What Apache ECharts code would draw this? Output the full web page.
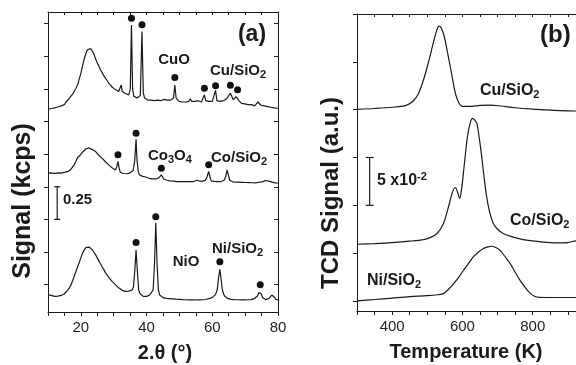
<!DOCTYPE html>
<html>
<head>
<meta charset="utf-8">
<script src="https://cdn.jsdelivr.net/npm/echarts@6/dist/echarts.min.js"></script>
<style>
  html, body { margin: 0; padding: 0; background: #fff; }
  #myChart { width: 576px; height: 365px; }
</style>
</head>
<body>
<div id="myChart"></div>
<script>
// (a) XRD, 2theta (deg) vs signal (kcps, curves offset)
var xrdCu = [[10,1.345],[10.5,1.36],[11,1.35],[11.5,1.365],[12,1.355],[12.5,1.37],[13,1.362],[13.5,1.375],[14,1.37],[14.5,1.385],[15,1.38],[15.5,1.40],[16,1.405],[16.5,1.43],[17,1.435],[17.5,1.46],[18,1.47],[18.5,1.505],[19,1.53],[19.5,1.575],[20,1.62],[20.5,1.675],[21,1.73],[21.5,1.77],[22,1.80],[22.3,1.815],[22.6,1.805],[23,1.81],[23.5,1.79],[24,1.765],[24.5,1.73],[25,1.70],[25.5,1.675],[26,1.645],[26.5,1.625],[27,1.60],[27.5,1.585],[28,1.565],[28.5,1.545],[29,1.53],[29.5,1.515],[30,1.505],[30.5,1.495],[31,1.49],[31.5,1.48],[32,1.485],[32.3,1.53],[32.6,1.48],[33,1.47],[33.5,1.465],[34,1.455],[34.6,1.455],[35.05,1.5],[35.4,1.99],[35.75,1.5],[36.1,1.445],[36.6,1.44],[37.1,1.43],[37.6,1.435],[38.1,1.45],[38.6,1.94],[39,1.47],[39.4,1.43],[39.8,1.42],[40.3,1.415],[40.8,1.425],[41.3,1.415],[41.8,1.42],[42.3,1.41],[42.8,1.42],[43.3,1.415],[43.8,1.42],[44.3,1.41],[44.8,1.415],[45.3,1.42],[45.8,1.41],[46.3,1.415],[46.8,1.41],[47.3,1.415],[47.8,1.418],[48.2,1.43],[48.6,1.53],[49,1.43],[49.4,1.415],[49.9,1.405],[50.4,1.41],[50.9,1.40],[51.4,1.405],[51.9,1.40],[52.4,1.41],[52.9,1.405],[53.3,1.425],[53.7,1.405],[54.2,1.40],[54.7,1.405],[55.2,1.40],[55.7,1.41],[56.2,1.405],[56.7,1.40],[57.2,1.41],[57.6,1.455],[58,1.41],[58.5,1.40],[59,1.405],[59.5,1.40],[60,1.405],[60.5,1.41],[61,1.49],[61.4,1.41],[61.9,1.40],[62.4,1.405],[62.9,1.40],[63.4,1.41],[63.9,1.415],[64.4,1.425],[64.9,1.44],[65.5,1.468],[66,1.44],[66.4,1.418],[66.9,1.43],[67.3,1.44],[67.7,1.455],[68.1,1.41],[68.5,1.395],[68.9,1.39],[69.4,1.395],[69.9,1.385],[70.4,1.39],[70.9,1.38],[71.4,1.385],[71.9,1.38],[72.4,1.375],[72.9,1.37],[73.4,1.38],[73.9,1.40],[74.3,1.392],[74.8,1.375],[75.3,1.365],[75.8,1.37],[76.3,1.36],[76.8,1.365],[77.3,1.355],[77.8,1.36],[78.3,1.35],[78.8,1.355],[79.4,1.345],[80,1.35]];
var xrdCo = [[10,0.854],[10.5,0.85],[11,0.857],[11.5,0.848],[12,0.853],[12.5,0.85],[13,0.856],[13.5,0.849],[14,0.855],[14.5,0.858],[15,0.86],[15.5,0.862],[16,0.866],[16.5,0.872],[17,0.885],[17.5,0.90],[18,0.92],[18.5,0.945],[19,0.975],[19.3,0.985],[19.7,0.99],[20,1.0],[20.5,1.015],[21,1.03],[21.5,1.04],[22,1.045],[22.5,1.048],[23,1.042],[23.5,1.035],[24,1.028],[24.5,1.02],[25,1.005],[25.5,0.99],[26,0.98],[26.5,0.968],[27,0.955],[27.5,0.942],[28,0.93],[28.5,0.918],[29,0.905],[29.5,0.895],[30,0.885],[30.5,0.878],[30.9,0.90],[31.3,0.945],[31.6,0.90],[32,0.86],[32.4,0.855],[32.9,0.852],[33.4,0.855],[33.9,0.85],[34.4,0.852],[34.9,0.855],[35.4,0.86],[35.9,0.875],[36.4,0.95],[36.8,1.115],[37.1,0.95],[37.5,0.86],[37.9,0.84],[38.3,0.835],[38.8,0.83],[39.3,0.828],[39.8,0.825],[40.3,0.82],[40.8,0.815],[41.3,0.812],[41.8,0.81],[42.3,0.808],[42.8,0.81],[43.3,0.808],[43.8,0.82],[44.2,0.835],[44.5,0.842],[44.8,0.83],[45.2,0.81],[45.7,0.803],[46.2,0.80],[46.7,0.798],[47.2,0.795],[47.7,0.797],[48.2,0.793],[48.7,0.795],[49.2,0.79],[49.7,0.792],[50.2,0.79],[50.7,0.793],[51.2,0.789],[51.7,0.792],[52.2,0.79],[52.7,0.795],[53.2,0.79],[53.7,0.792],[54.2,0.789],[54.7,0.795],[55.2,0.80],[55.5,0.805],[55.9,0.795],[56.4,0.79],[56.9,0.792],[57.4,0.795],[57.9,0.80],[58.4,0.825],[58.9,0.868],[59.3,0.825],[59.7,0.795],[60.1,0.79],[60.6,0.792],[61.1,0.789],[61.6,0.79],[62.1,0.788],[62.6,0.79],[63.1,0.793],[63.6,0.80],[64.1,0.83],[64.5,0.88],[64.9,0.84],[65.3,0.80],[65.7,0.792],[66.2,0.788],[66.7,0.79],[67.2,0.786],[67.7,0.789],[68.2,0.785],[68.7,0.788],[69.2,0.784],[69.7,0.787],[70.2,0.783],[70.7,0.786],[71.2,0.782],[71.7,0.785],[72.2,0.781],[72.7,0.784],[73.2,0.78],[73.7,0.783],[74.2,0.785],[74.7,0.79],[75.2,0.788],[75.7,0.795],[76.2,0.798],[76.7,0.797],[77.2,0.793],[77.7,0.789],[78.2,0.786],[78.7,0.782],[79.2,0.78],[80,0.777]];
var xrdNi = [[10,-0.079],[10.5,-0.085],[11,-0.082],[11.5,-0.088],[12,-0.09],[12.5,-0.093],[13,-0.088],[13.5,-0.09],[14,-0.083],[14.5,-0.078],[15,-0.07],[15.5,-0.058],[16,-0.042],[16.5,-0.025],[17,-0.002],[17.5,0.03],[18,0.065],[18.5,0.1],[19,0.135],[19.5,0.17],[20,0.205],[20.5,0.24],[21,0.265],[21.5,0.283],[22,0.291],[22.5,0.288],[23,0.278],[23.5,0.266],[24,0.248],[24.5,0.228],[25,0.205],[25.5,0.18],[26,0.16],[26.5,0.135],[27,0.115],[27.5,0.09],[28,0.072],[28.5,0.055],[29,0.04],[29.5,0.025],[30,0.012],[30.5,0.0],[31,-0.012],[31.5,-0.025],[32,-0.035],[32.5,-0.042],[33,-0.048],[33.5,-0.052],[34,-0.055],[34.5,-0.05],[35,-0.048],[35.5,-0.042],[36,-0.02],[36.4,0.1],[36.8,0.266],[37.2,0.1],[37.6,-0.04],[38,-0.07],[38.5,-0.085],[39,-0.09],[39.5,-0.092],[40,-0.09],[40.5,-0.085],[41,-0.08],[41.5,-0.07],[42,-0.04],[42.4,0.15],[42.8,0.475],[43.2,0.15],[43.6,-0.04],[44,-0.08],[44.5,-0.095],[45,-0.1],[45.5,-0.104],[46,-0.106],[46.5,-0.105],[47,-0.108],[47.5,-0.107],[48,-0.11],[48.5,-0.108],[49,-0.112],[49.5,-0.11],[50,-0.113],[50.5,-0.111],[51,-0.115],[51.5,-0.112],[52,-0.116],[52.5,-0.113],[53,-0.117],[53.5,-0.114],[54,-0.117],[54.5,-0.115],[55,-0.118],[55.5,-0.114],[56,-0.117],[56.5,-0.115],[57,-0.116],[57.5,-0.113],[58,-0.114],[58.5,-0.11],[59,-0.108],[59.5,-0.105],[60,-0.1],[60.5,-0.092],[61,-0.075],[61.5,-0.04],[61.9,0.05],[62.3,0.118],[62.6,0.06],[63,-0.03],[63.4,-0.07],[63.8,-0.09],[64.3,-0.1],[64.8,-0.108],[65.3,-0.11],[65.8,-0.113],[66.3,-0.111],[66.8,-0.115],[67.3,-0.112],[67.8,-0.116],[68.3,-0.114],[68.8,-0.117],[69.3,-0.115],[69.8,-0.117],[70.3,-0.114],[70.8,-0.116],[71.3,-0.113],[71.8,-0.115],[72.3,-0.11],[72.8,-0.108],[73.3,-0.1],[73.8,-0.085],[74.2,-0.06],[74.6,-0.054],[74.9,-0.07],[75.3,-0.1],[75.7,-0.112],[76.2,-0.115],[76.7,-0.113],[77.2,-0.108],[77.7,-0.095],[78.1,-0.08],[78.4,-0.078],[78.8,-0.095],[79.3,-0.112],[80,-0.117]];
// peak markers
var dotsCu = [[35.4,2.043],[38.6,1.992],[48.6,1.587],[57.6,1.506],[61.0,1.524],[65.5,1.529],[67.7,1.493]];
var dotsCo = [[31.3,0.995],[36.8,1.161],[44.5,0.893],[58.9,0.918]];
var dotsNi = [[36.8,0.322],[42.8,0.521],[62.3,0.176],[74.6,-0.002]];

// (b) TPR, temperature (K) vs TCD signal (a.u., curves offset)
var tprCu = [[300,0.2003],[350,0.2012],[400,0.2025],[440,0.2045],[460,0.209],[475,0.217],[490,0.232],[505,0.252],[520,0.274],[530,0.286],[535,0.2873],[540,0.285],[548,0.277],[560,0.2552],[570,0.236],[580,0.217],[590,0.207],[600,0.2035],[620,0.2035],[650,0.2045],[680,0.2048],[710,0.2038],[750,0.202],[800,0.2005],[850,0.1995],[900,0.1988],[1000,0.198]];
var tprCo = [[300,0.0593],[350,0.06],[400,0.061],[450,0.0625],[490,0.0642],[510,0.0665],[528,0.0705],[546,0.081],[560,0.098],[572,0.114],[580,0.1186],[586,0.114],[592,0.1071],[598,0.118],[604,0.138],[614,0.171],[622,0.186],[629,0.1908],[635,0.189],[641,0.1856],[648,0.17],[655,0.1506],[662,0.128],[669,0.1088],[678,0.092],[688,0.081],[700,0.075],[716,0.0705],[740,0.0672],[773,0.0642],[820,0.062],[868,0.0607],[900,0.061],[923,0.0628],[1000,0.063]];
var tprNi = [[300,0.0],[350,0.0015],[400,0.003],[450,0.0045],[500,0.0055],[530,0.0065],[546,0.0077],[560,0.012],[575,0.0182],[590,0.025],[603,0.0321],[617,0.039],[631,0.046],[645,0.051],[660,0.0548],[672,0.0565],[684,0.0572],[695,0.0558],[707,0.053],[720,0.047],[736,0.0391],[750,0.03],[764,0.0216],[778,0.0145],[792,0.0084],[805,0.005],[820,0.0038],[868,0.0036],[923,0.0036],[1000,0.0036]];

// axis ticks
var xrdTicks = [10,15,20,25,30,35,40,45,50,55,60,65,70,75,80];
var xrdLabels = [20,40,60,80];
var xrdYTicks = [0,0.25,0.5,0.75,1,1.25,1.5,1.75,2];
var tprTicks = [300,350,400,450,500,550,600,650,700,750,800,850,900,950,1000];
var tprLabels = [400,600,800];
var tprYTicks = [0,0.05,0.1,0.15,0.2,0.25,0.3];
// scale bars: [x, from, to]
var barA = [[12.8,0.5,0.75]];
var barB = [[336,0.1,0.15]];

var font = "'Liberation Sans', Arial, sans-serif";
var ink = "#1a1a1a";

function xAx(grid, min, max, ticks, labels, pos) {
  var top = pos === "top";
  return {
    type: "value", gridIndex: grid, min: min, max: max, position: pos,
    axisLine: { onZero: false, lineStyle: { color: ink, width: 1 } },
    axisTick: { inside: top, length: top ? 3 : 4, customValues: ticks, lineStyle: { color: ink } },
    axisLabel: top ? { show: false } : { customValues: labels, fontSize: 15, color: "#222", fontFamily: font, margin: 8 },
    splitLine: { show: false }
  };
}
function yAx(grid, min, max, ticks, pos) {
  return {
    type: "value", gridIndex: grid, min: min, max: max, position: pos,
    axisLine: { show: true, onZero: false, lineStyle: { color: ink, width: 1 } },
    axisTick: { show: true, inside: pos === "right", length: 4, customValues: ticks, lineStyle: { color: ink } },
    axisLabel: { show: false },
    splitLine: { show: false }
  };
}
function curve(data, xi, yi, smooth) {
  return {
    type: "line", data: data, xAxisIndex: xi, yAxisIndex: yi, showSymbol: false,
    smooth: smooth, lineStyle: { color: ink, width: 1.2 }, silent: true
  };
}
function dots(data) {
  return {
    type: "scatter", data: data, xAxisIndex: 0, yAxisIndex: 0,
    symbolSize: 7, itemStyle: { color: "#111", opacity: 1 }, silent: true
  };
}
function scaleBar(data, xi, yi, cap) {
  return {
    type: "custom", data: data, xAxisIndex: xi, yAxisIndex: yi, silent: true,
    encode: { x: 0, y: [1, 2] },
    renderItem: function (params, api) {
      var p0 = api.coord([api.value(0), api.value(1)]);
      var p1 = api.coord([api.value(0), api.value(2)]);
      var st = { stroke: ink, lineWidth: 1.2 };
      return {
        type: "group", children: [
          { type: "line", shape: { x1: p0[0], y1: p0[1], x2: p1[0], y2: p1[1] }, style: st },
          { type: "line", shape: { x1: p0[0] - cap, y1: p0[1], x2: p0[0] + cap, y2: p0[1] }, style: st },
          { type: "line", shape: { x1: p1[0] - cap, y1: p1[1], x2: p1[0] + cap, y2: p1[1] }, style: st }
        ]
      };
    }
  };
}
function txt(x, y, text, size, align, extra) {
  var t = {
    type: "text", x: x, y: y, silent: true,
    style: {
      text: text, fill: "#1a1a1a", font: "bold " + size + "px " + font,
      textAlign: align || "left", textVerticalAlign: "middle",
      rich: {
        n: { fontSize: size, fontWeight: "bold", fontFamily: font, fill: "#1a1a1a" },
        sub: { fontSize: Math.round(size * 0.7), fontWeight: "bold", fontFamily: font, fill: "#1a1a1a", padding: [8, 0, 0, 0] },
        sup: { fontSize: Math.round(size * 0.7), fontWeight: "bold", fontFamily: font, fill: "#1a1a1a", padding: [0, 0, 8, 0] }
      }
    }
  };
  if (extra) { for (var k in extra) t[k] = extra[k]; }
  return t;
}

var myChart = echarts.init(document.getElementById("myChart"), null, { renderer: "canvas" });
myChart.setOption({
  animation: false,
  backgroundColor: "#fff",
  grid: [
    { left: 48, top: 12, width: 230, height: 300, outerBoundsMode: "none", containLabel: false },
    { left: 357, top: 14, width: 246, height: 297, outerBoundsMode: "none", containLabel: false }
  ],
  xAxis: [
    xAx(0, 10, 80, xrdTicks, xrdLabels, "bottom"),
    xAx(0, 10, 80, xrdTicks, xrdLabels, "top"),
    xAx(1, 300, 1000, tprTicks, tprLabels, "bottom"),
    xAx(1, 300, 1000, tprTicks, tprLabels, "top")
  ],
  yAxis: [
    yAx(0, -0.21, 2.09, xrdYTicks, "left"),
    yAx(0, -0.21, 2.09, xrdYTicks, "right"),
    yAx(1, -0.0105, 0.3, tprYTicks, "left")
  ],
  series: [
    curve(xrdCu, 0, 0, false),
    curve(xrdCo, 0, 0, false),
    curve(xrdNi, 0, 0, false),
    dots(dotsCu), dots(dotsCo), dots(dotsNi),
    scaleBar(barA, 0, 0, 3),
    curve(tprCu, 2, 2, 0.3),
    curve(tprCo, 2, 2, 0.3),
    curve(tprNi, 2, 2, 0.3),
    scaleBar(barB, 2, 2, 4)
  ],
  graphic: [
    txt(252, 35, "(a)", 23, "center"),
    txt(174, 60, "CuO", 15, "center"),
    txt(210, 71, "{n|Cu/SiO}{sub|2}", 15),
    txt(148, 156, "{n|Co}{sub|3}{n|O}{sub|4}", 15),
    txt(211, 158, "{n|Co/SiO}{sub|2}", 15),
    txt(186, 262, "NiO", 15, "center"),
    txt(212, 249, "{n|Ni/SiO}{sub|2}", 15),
    txt(63, 200, "0.25", 15),
    txt(23, 201, "Signal (kcps)", 25, "center", { rotation: Math.PI / 2 }),
    txt(165, 353, "2.\u03b8 (\u00b0)", 20, "center"),
    txt(540, 35, "(b)", 24),
    txt(480, 91, "{n|Cu/SiO}{sub|2}", 16),
    txt(510, 221, "{n|Co/SiO}{sub|2}", 16),
    txt(367, 281, "{n|Ni/SiO}{sub|2}", 16),
    txt(377, 181, "{n|5 x10}{sup|-2}", 16),
    txt(331, 193, "TCD Signal (a.u.)", 24, "center", { rotation: Math.PI / 2 }),
    txt(466, 352, "Temperature (K)", 20, "center")
  ]
});
</script>
</body>
</html>
